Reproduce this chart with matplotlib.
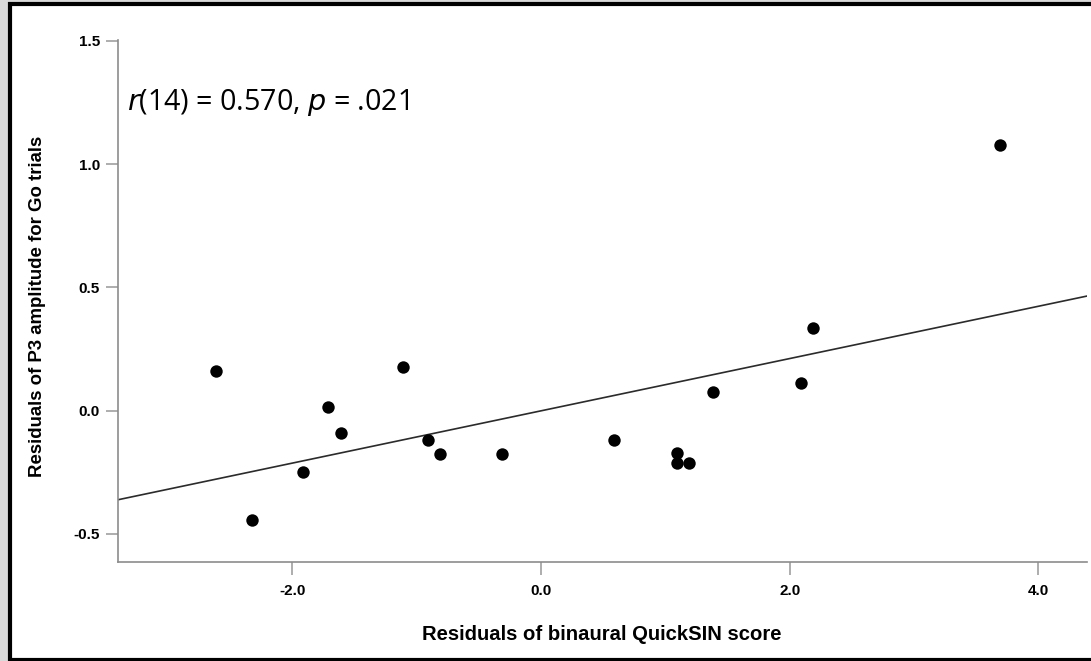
import numpy as np
from matplotlib import pyplot as plt
from matplotlib.patches import Rectangle

# residuals
quicksin_res = [-2.61, -2.32, -1.91, -1.71, -1.61, -1.11, -0.91, -0.81, -0.31,
                0.59, 1.09, 1.09, 1.19, 1.38, 2.09, 2.19, 3.69]
p3_res = [0.162, -0.445, -0.250, 0.015, -0.090, 0.178, -0.119, -0.174, -0.174,
          -0.120, -0.172, -0.212, -0.212, 0.076, 0.111, 0.337, 1.078]
xticks = [-2.0, 0.0, 2.0, 4.0]
yticks = [-0.5, 0.0, 0.5, 1.0, 1.5]

fig = plt.figure(figsize=(10.91, 6.61), dpi=100, facecolor="#d9d9d9")
# white panel with black frame (cut off on the right)
fig.patches.append(Rectangle((10 / 1091, 1.5 / 661), 1.2, 1 - 5.5 / 661,
                             transform=fig.transFigure, facecolor="white",
                             edgecolor="black", linewidth=3, zorder=-10))

ax = fig.add_axes([118 / 1091, 1 - 562 / 661, (1087 - 118) / 1091, (562 - 40) / 661])
ax.set_facecolor("none")
ax.set_xlim(-3.40, 4.39)
ax.set_ylim(-0.614, 1.504)

ax.scatter(quicksin_res, p3_res, s=80, color="black", zorder=3, linewidths=0)

# linear fit line
k, d = np.polyfit(quicksin_res, p3_res, 1)
xx = np.array(ax.get_xlim())
ax.plot(xx, k * xx + d, color="#2b2b2b", linewidth=1.2)

for s in ["top", "right"]:
    ax.spines[s].set_visible(False)
for s in ["left", "bottom"]:
    ax.spines[s].set_color("#8c8c8c")
    ax.spines[s].set_linewidth(1.2)

ax.set_xticks(xticks)
ax.set_yticks(yticks)
ax.set_xticklabels(["%.1f" % v for v in xticks])
ax.set_yticklabels(["%.1f" % v for v in yticks])
ax.tick_params(direction="out", length=9, width=1.2, color="#a0a0a0",
               labelsize=11, pad=7)
ax.tick_params(axis="y", pad=4)
for lab in ax.get_xticklabels() + ax.get_yticklabels():
    lab.set_fontfamily("Liberation Sans")
    lab.set_fontweight("bold")

fig.text(602 / 1091, 1 - 634 / 661, "Residuals of binaural QuickSIN score",
         ha="center", va="center", fontsize=14.6, fontweight="bold",
         family="Liberation Sans")
fig.text(38 / 1091, 1 - 306 / 661, "Residuals of P3 amplitude for Go trials",
         ha="center", va="center", rotation=90, fontsize=13.4,
         fontweight="bold", family="Liberation Sans")

ax.text(127 / 1091, 1 - 103 / 661, "$\\it{r}$(14) = 0.570, $\\it{p}$ = .021",
        transform=fig.transFigure, ha="left", va="center", fontsize=20.6,
        family="Open Sans")

fig.savefig("out.png", dpi=100, facecolor=fig.get_facecolor())
